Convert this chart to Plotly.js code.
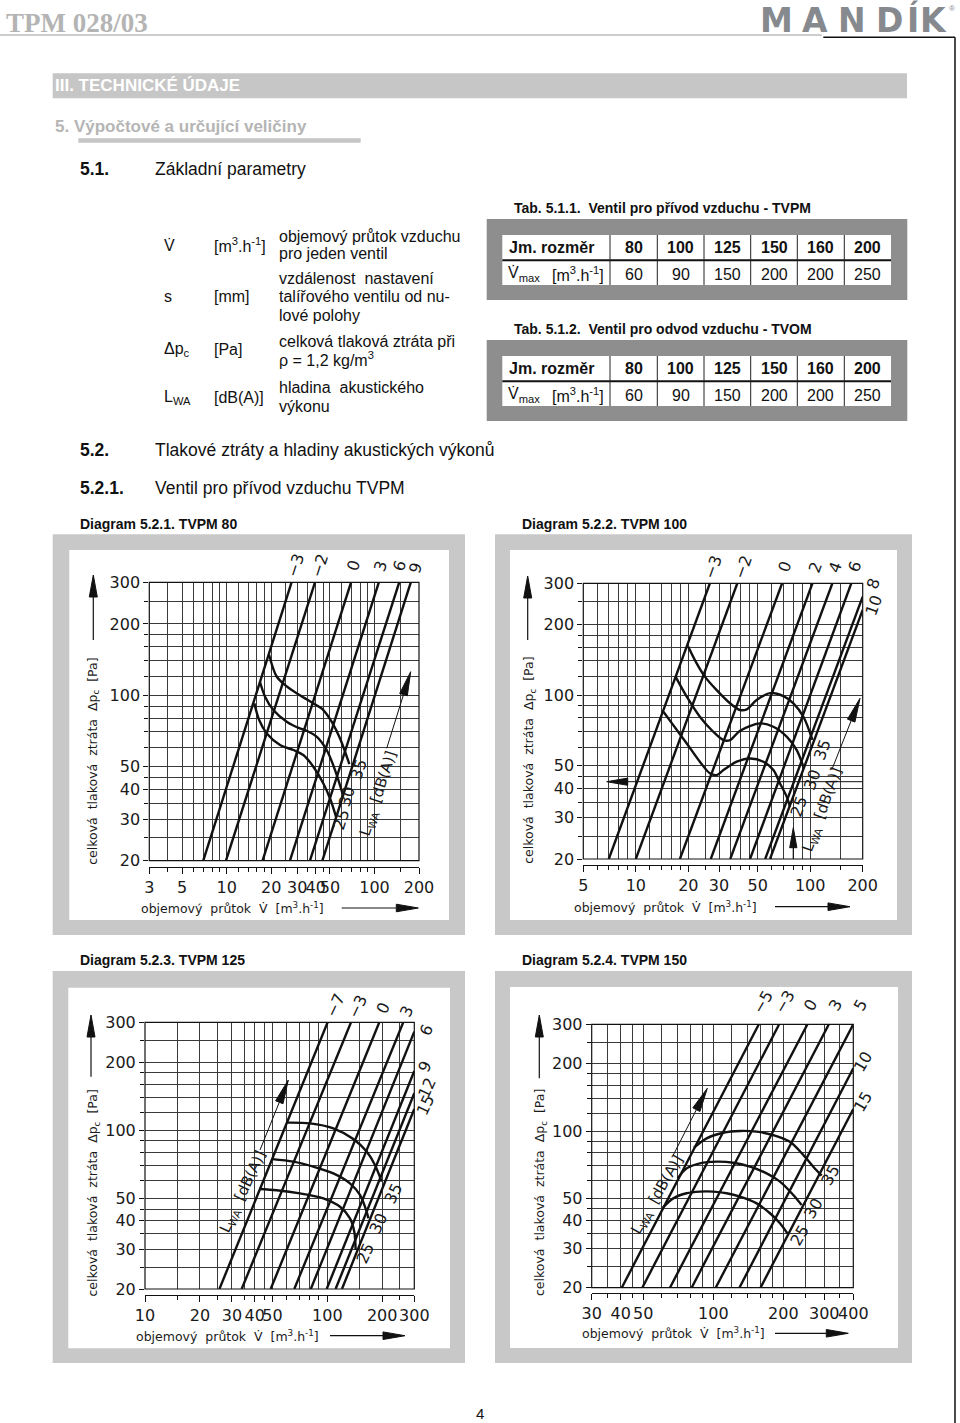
<!DOCTYPE html>
<html>
<head>
<meta charset="utf-8">
<script src="https://cdn.plot.ly/plotly-3.0.1.min.js"></script>
<style>
  html, body { margin: 0; padding: 0; background: #fff; }
  #page { width: 960px; height: 1423px; }
</style>
</head>
<body>
<div id="page"></div>
<script>
var W = 960, H = 1423;
var INK = '#111111';
var GRID = '#3a3a3a';
var SANS = 'Liberation Sans, Arial, sans-serif';
var CAD = 'DejaVu Sans, sans-serif';

// ---- tables 5.1.1 / 5.1.2 ----
var jmRozmer = [80, 100, 125, 150, 160, 200];
var vmaxTVPM = [60, 90, 150, 200, 200, 250];
var vmaxTVOM = [60, 90, 150, 200, 200, 250];

// ---- pressure axis, same on every diagram ----
var pRange = [20, 300];
var pMajor = [20, 30, 40, 50, 100, 200, 300];
var pMinor = [25, 35, 45, 60, 70, 80, 90, 120, 140, 160, 180, 250];

// ---- Diagram 5.2.1. TVPM 80 ----
var tvpm80Range = [3, 200];
var tvpm80Ticks = [3, 5, 10, 20, 30, 40, 50, 100, 200];
var tvpm80Minor = [4, 6, 7, 8, 9, 12, 14, 16, 18, 25, 35, 45, 60, 70, 80, 90, 150];
var tvpm80Settings = ['−3', '−2', '0', '3', '6', '9'];
var tvpm80LineV = [[6.95, 27.5], [9.9, 39.6], [17.5, 69.4], [26.8, 107], [36.6, 147], [44.4, 176]];
var tvpm80LineP = [[20, 300], [20, 300], [20, 300], [20, 300], [20, 300], [20, 300]];
var tvpm80Noise = ['25', '30', '35'];
var tvpm80NoiseV = [
  [15.4, 16.6, 18.7, 23.0, 28.3, 33.0, 38.6, 45.1, 50.5, 54.9],
  [16.8, 18.2, 20.7, 25.5, 31.3, 34.8, 40.6, 47.5, 54.1, 60.9],
  [19.4, 21.8, 25.5, 31.3, 38.6, 45.1, 51.3, 58.4, 67.6]
];
var tvpm80NoiseP = [
  [92.4, 78.6, 69.0, 61.6, 58.7, 55.9, 49.9, 42.4, 36.1, 30.7],
  [114, 98.6, 86.6, 77.3, 72.4, 70.8, 66.8, 58.7, 48.3, 38.3],
  [148, 120, 109, 100, 92.4, 86.6, 77.3, 65.8, 51.2]
];

// ---- Diagram 5.2.2. TVPM 100 ----
var tvpm100Range = [5, 200];
var tvpm100Ticks = [5, 10, 20, 30, 50, 100, 200];
var tvpm100Minor = [6, 7, 8, 9, 12, 14, 16, 18, 25, 35, 40, 45, 60, 70, 80, 90, 150];
var tvpm100Settings = ['−3', '−2', '0', '2', '4', '6', '8', '10'];
var tvpm100LineV = [[7.0, 26.6], [10.0, 38.2], [17.9, 69], [26.9, 103], [34.8, 134], [45.2, 172], [55.2, 200], [58.8, 200]];
var tvpm100LineP = [[20, 300], [20, 300], [20, 300], [20, 300], [20, 300], [20, 300], [20, 263], [20, 231]];
var tvpm100Noise = ['25', '30', '35'];
var tvpm100NoiseV = [
  [14.4, 16.4, 19.6, 23.3, 26.6, 29.1, 31.8, 37.9, 45.2, 53.9, 61.5, 67.1, 73.3, 76.6],
  [16.9, 19.6, 23.3, 27.8, 31.8, 34.7, 39.6, 51.5, 61.5, 73.3, 83.7, 91.4],
  [20.0, 22.3, 24.9, 29.1, 34.7, 39.6, 43.3, 49.3, 58.9, 70.2, 80.1, 91.4, 103]
];
var tvpm100NoiseP = [
  [84.9, 74.5, 62.2, 52.0, 46.4, 45.6, 47.9, 52.0, 53.7, 52.0, 47.9, 42.0, 36.9, 33.4],
  [120, 98.5, 80.9, 69.8, 64.3, 64.3, 70.5, 75.8, 73.3, 66.5, 58.3, 49.5],
  [161, 137, 120, 105, 92.3, 86.4, 87, 95.3, 102, 99, 92.3, 80.9, 64.5]
];

// ---- Diagram 5.2.3. TVPM 125 ----
var tvpm125Range = [10, 300];
var tvpm125Ticks = [10, 20, 30, 40, 50, 100, 200, 300];
var tvpm125Minor = [15, 25, 35, 45, 60, 70, 80, 90, 150, 250];
var tvpm125Settings = ['−7', '−3', '0', '3', '6', '9', '12', '15'];
var tvpm125LineV = [[25.6, 100.4], [33.9, 134.9], [48.9, 192.8], [65.9, 261], [81.2, 300], [99.2, 300], [111, 300], [120.3, 300]];
var tvpm125LineP = [[20, 300], [20, 300], [20, 300], [20, 300], [20, 273], [20, 183], [20, 146], [20, 124.4]];
var tvpm125Noise = ['25', '30', '35'];
var tvpm125NoiseV = [
  [42.4, 52.7, 70.8, 95.1, 117.4, 133.1, 140.6, 143],
  [49.9, 65.1, 83.8, 107.9, 133.1, 151, 164.3, 167.9],
  [60.6, 80.4, 107.9, 138.9, 164.3, 182.5, 198.6]
];
var tvpm125NoiseP = [
  [55.2, 54.5, 52.8, 50.2, 46.1, 41.0, 35.8, 29.7],
  [74.8, 72.9, 69.3, 64.7, 58.5, 52.0, 43.9, 41.0],
  [108.3, 107.5, 102.2, 91.7, 80.7, 70.5, 59.5]
];

// ---- Diagram 5.2.4. TVPM 150 ----
var tvpm150Range = [30, 400];
var tvpm150Ticks = [30, 40, 50, 100, 200, 300, 400];
var tvpm150Minor = [35, 45, 60, 70, 80, 90, 120, 140, 160, 180, 250, 350];
var tvpm150Settings = ['−5', '−3', '0', '3', '5', '10', '15'];
var tvpm150LineV = [[40.4, 157], [49.5, 192], [65.1, 254], [80.7, 314], [102.4, 400], [129.5, 400], [159.6, 400]];
var tvpm150LineP = [[20, 300], [20, 300], [20, 300], [20, 300], [20, 300], [20, 190.8], [20, 125.6]];
var tvpm150Noise = ['25', '30', '35'];
var tvpm150NoiseV = [
  [60.6, 67.3, 76.8, 87.6, 100, 114.1, 130.2, 153.6, 175.3, 193.5, 208.1],
  [70.3, 76.8, 87.6, 103.4, 121.9, 143.8, 169.6, 193.5, 220.8, 239.8],
  [82.6, 93.6, 110.4, 130.2, 153.6, 181.1, 213.6, 243.8, 269.2, 292.4]
];
var tvpm150NoiseP = [
  [45.5, 50.1, 52.8, 53.7, 53.7, 52.8, 51.0, 47.6, 43.0, 38.8, 35.0],
  [61.6, 68.2, 71.8, 73.1, 72.3, 69.4, 64.8, 59.5, 51.9, 46.8],
  [84.4, 92.9, 98.4, 100.2, 99.5, 96.1, 89.7, 78.3, 69.4, 63.3]
];

// page pixels -> paper
function X(x) { return x / W; }
function Y(y) { return 1 - y / H; }

function label(x, y, text, size, o) {
  o = o || {};
  return {
    xref: 'paper', yref: 'paper', x: X(x), y: Y(y), text: text, showarrow: false,
    xanchor: o.anchor || 'left', yanchor: 'middle', textangle: o.angle || 0,
    font: {family: o.family || SANS, size: size, color: o.color || INK}
  };
}

function rect(x0, y0, x1, y1, fill, layer) {
  return {type: 'rect', xref: 'paper', yref: 'paper', x0: X(x0), y0: Y(y0), x1: X(x1), y1: Y(y1),
    fillcolor: fill, line: {width: 0}, layer: layer || 'below'};
}

function seg(x0, y0, x1, y1, color, width) {
  return {type: 'line', xref: 'paper', yref: 'paper', x0: X(x0), y0: Y(y0), x1: X(x1), y1: Y(y1),
    line: {color: color, width: width}, layer: 'above'};
}

// stem + filled head, tip at (x1, y1)
function arrow(x0, y0, x1, y1, headLen, headHalf, lw) {
  var dx = x1 - x0, dy = y1 - y0, L = Math.sqrt(dx * dx + dy * dy);
  var ux = dx / L, uy = dy / L, nx = -uy, ny = ux;
  var bx = x1 - ux * headLen, by = y1 - uy * headLen;
  var path = 'M' + X(x1) + ',' + Y(y1) +
    ' L' + X(bx + nx * headHalf) + ',' + Y(by + ny * headHalf) +
    ' L' + X(bx - nx * headHalf) + ',' + Y(by - ny * headHalf) + ' Z';
  return [
    seg(x0, y0, bx, by, INK, lw || 1.2),
    {type: 'path', xref: 'paper', yref: 'paper', path: path, fillcolor: INK, line: {color: INK, width: 1}, layer: 'above'}
  ];
}

var shapes = [];
var annotations = [];
var data = [];

// ---- page header ----
shapes.push(seg(0, 35, 821.7, 35, '#cccccc', 2));
shapes.push(seg(823.3, 37.3, 955, 37.3, INK, 1.5));
shapes.push(seg(955, 37.3, 955, H, INK, 1.5));
annotations.push(label(4, 23.5, '<b>TPM 028/03</b>', 27, {family: 'Liberation Serif, serif', color: '#b4b4b4'}));
var logo = ['M', 'A', 'N', 'D', 'Í', 'K'];
var logoX = [776, 815, 851.7, 889, 912.5, 933.5];
logo.forEach(function (ch, i) {
  annotations.push(label(logoX[i], 20, '<b>' + ch + '</b>', 33, {anchor: 'center', family: CAD, color: '#868a8f'}));
});
annotations.push(label(952, 9, '®', 8, {anchor: 'center', color: '#868a8f'}));

// ---- headings ----
shapes.push(rect(52.7, 73.3, 907, 98.3, '#c6c6c6'));
annotations.push(label(53.3, 86, '<b>III. TECHNICKÉ ÚDAJE</b>', 17, {color: '#ffffff'}));
annotations.push(label(53.3, 126, '<b>5. Výpočtové a určující veličiny</b>', 17, {color: '#b5b5b5'}));
shapes.push(rect(78.3, 138.3, 360.7, 142.7, '#c6c6c6'));
annotations.push(label(78.3, 169.3, '<b>5.1.</b>', 17.5));
annotations.push(label(152.7, 169.3, 'Základní parametry', 17.5));

// ---- quantities ----
var qSym = ['V\u0307', 's', 'Δp<sub>c</sub>', 'L<sub>WA</sub>'];
var qSymY = [245, 297, 350, 397];
var qUnit = ['[m<sup>3</sup>.h<sup>-1</sup>]', '[mm]', '[Pa]', '[dB(A)]'];
var qText = [
  ['objemový průtok vzduchu', 'pro jeden ventil'],
  ['vzdálenost \u00a0nastavení', 'talířového ventilu od nu-', 'lové polohy'],
  ['celková tlaková ztráta při', 'ρ = 1,2 kg/m<sup>3</sup>'],
  ['hladina \u00a0akustického', 'výkonu']
];
var qTextY = [[236, 254], [278.5, 297, 315], [341, 359], [388, 406]];
qSym.forEach(function (s, i) {
  annotations.push(label(162, qSymY[i], s, 16));
  annotations.push(label(212, qSymY[i], qUnit[i], 16));
  qText[i].forEach(function (t, j) { annotations.push(label(277, qTextY[i][j], t, 16)); });
});

// ---- tables ----
var colEdges = [610, 657.3, 704, 750.7, 797.3, 844.3, 891];
function table(title, top, values) {
  annotations.push(label(512.3, top - 10.7, '<b>' + title + '</b>', 14));
  shapes.push(rect(486.7, top, 907.3, top + 81, '#8e8e8e'));
  shapes.push(rect(502.3, top + 16, 891, top + 66, '#ffffff'));
  shapes.push(seg(502.3, top + 41.3, 891, top + 41.3, INK, 2));
  for (var i = 0; i < 6; i++) shapes.push(seg(colEdges[i], top + 16, colEdges[i], top + 66, '#222', 1));
  annotations.push(label(507.3, top + 28.7, '<b>Jm. rozměr</b>', 16));
  annotations.push(label(505.5, top + 55.3, 'V\u0307<sub>max</sub>', 16));
  annotations.push(label(550, top + 55.3, '[m<sup>3</sup>.h<sup>-1</sup>]', 16));
  for (var k = 0; k < 6; k++) {
    var cx = (colEdges[k] + colEdges[k + 1]) / 2;
    annotations.push(label(cx, top + 28.7, '<b>' + jmRozmer[k] + '</b>', 16, {anchor: 'center'}));
    annotations.push(label(cx, top + 55.3, String(values[k]), 16, {anchor: 'center'}));
  }
}
table('Tab. 5.1.1. \u00a0Ventil pro přívod vzduchu - TVPM', 219, vmaxTVPM);
table('Tab. 5.1.2. \u00a0Ventil pro odvod vzduchu - TVOM', 340, vmaxTVOM);

annotations.push(label(78.3, 450, '<b>5.2.</b>', 17.5));
annotations.push(label(152.7, 450, 'Tlakové ztráty a hladiny akustických výkonů', 17.5));
annotations.push(label(78.3, 488, '<b>5.2.1.</b>', 17.5));
annotations.push(label(152.7, 488, 'Ventil pro přívod vzduchu TVPM', 17.5));
annotations.push(label(480, 1413, '4', 15, {anchor: 'center'}));

// ---- diagrams ----
var diagrams = [
  {title: 'Diagram 5.2.1. TVPM 80', titleAt: [78.3, 524], frame: [52.7, 534.3, 465, 935], inner: [69.3, 550, 449, 920],
   plot: [149.3, 582.3, 419, 860.7], axisY: 866.7, range: tvpm80Range, ticks: tvpm80Ticks, minor: tvpm80Minor,
   lineV: tvpm80LineV, lineP: tvpm80LineP, noiseV: tvpm80NoiseV, noiseP: tvpm80NoiseP,
   settings: tvpm80Settings, noise: tvpm80Noise, angle: -72,
   settingAt: [[295, 565], [319.3, 565], [353.3, 565], [380.7, 566.7], [400, 566], [415, 568]],
   noiseAt: [[340.5, 820], [347, 796.7], [358.3, 769]],
   lwaAt: [378.3, 793.3], lwaArrow: [386.7, 748.3, 410.7, 671.7],
   yTitle: [93.3, 761.5], yArrow: [93.3, 640, 575], xTitle: [139, 908], xArrow: [341.7, 418.3, 908]},
  {title: 'Diagram 5.2.2. TVPM 100', titleAt: [520, 524], frame: [495, 534.3, 912, 935], inner: [510, 550, 897, 920],
   plot: [583.3, 583.3, 862.7, 859], axisY: 865, range: tvpm100Range, ticks: tvpm100Ticks, minor: tvpm100Minor,
   lineV: tvpm100LineV, lineP: tvpm100LineP, noiseV: tvpm100NoiseV, noiseP: tvpm100NoiseP,
   settings: tvpm100Settings, noise: tvpm100Noise, angle: -70,
   settingAt: [[713.3, 566.7], [743.3, 566.7], [785, 566.7], [815, 567.3], [835, 567.3], [855, 566.7], [873.3, 583.3], [873.3, 605]],
   noiseAt: [[799, 806.7], [811.7, 780], [821.7, 750]],
   lwaAt: [821.7, 810], lwaArrow: [831.7, 770, 860, 698.3],
   yTitle: [530, 760.8], yArrow: [527.7, 640, 576], xTitle: [571.7, 906.7], xArrow: [775, 850, 906.7]},
  {title: 'Diagram 5.2.3. TVPM 125', titleAt: [78.3, 960], frame: [52.7, 971, 465, 1363], inner: [68.3, 987.7, 450, 1348.3],
   plot: [145, 1022.3, 414.3, 1289], axisY: 1295, range: tvpm125Range, ticks: tvpm125Ticks, minor: tvpm125Minor,
   lineV: tvpm125LineV, lineP: tvpm125LineP, noiseV: tvpm125NoiseV, noiseP: tvpm125NoiseP,
   settings: tvpm125Settings, noise: tvpm125Noise, angle: -65,
   settingAt: [[335, 1005], [357.7, 1006.7], [382.7, 1008.3], [406.7, 1011.7], [426, 1030], [425, 1066.7], [426.7, 1088.3], [425, 1105]],
   noiseAt: [[365, 1253.3], [378.3, 1223.3], [393.3, 1193.3]],
   lwaAt: [243.3, 1191.7], lwaArrow: [260, 1150, 288.3, 1080],
   yTitle: [93.3, 1193.3], yArrow: [91, 1076.7, 1015], xTitle: [134, 1335.7], xArrow: [330, 405, 1335.7]},
  {title: 'Diagram 5.2.4. TVPM 150', titleAt: [520, 960], frame: [495, 971, 912, 1363], inner: [510, 987, 898, 1348],
   plot: [591.7, 1024.3, 853.3, 1287.7], axisY: 1292.7, range: tvpm150Range, ticks: tvpm150Ticks, minor: tvpm150Minor,
   lineV: tvpm150LineV, lineP: tvpm150LineP, noiseV: tvpm150NoiseV, noiseP: tvpm150NoiseP,
   settings: tvpm150Settings, noise: tvpm150Noise, angle: -60,
   settingAt: [[763.3, 1001.7], [785, 1001.7], [810, 1005], [835, 1005], [860, 1005], [863.3, 1061.7], [863.3, 1101.7]],
   noiseAt: [[799.3, 1235], [813.3, 1208.3], [830, 1175]],
   lwaAt: [656.7, 1195], lwaArrow: [673.3, 1155, 707.3, 1088.3],
   yTitle: [540, 1193], yArrow: [539.3, 1078.3, 1015], xTitle: [580, 1333.3], xArrow: [775, 848.3, 1333.3]}
];

function logAxis(range, major, minor, extra) {
  var ax = {
    type: 'log', range: [Math.log10(range[0]), Math.log10(range[1])], fixedrange: true,
    tickmode: 'array', tickvals: major, ticktext: major.map(String), tickangle: 0,
    ticks: 'outside', ticklen: 6, tickwidth: 1, tickcolor: INK,
    tickfont: {family: CAD, size: 16, color: '#1a1a1a'},
    showgrid: true, gridcolor: GRID, gridwidth: 1, zeroline: false, showline: false,
    minor: {tickmode: 'array', tickvals: minor, ticks: 'outside', ticklen: 4, tickcolor: INK,
      showgrid: true, gridcolor: GRID, gridwidth: 1}
  };
  for (var k in extra) ax[k] = extra[k];
  return ax;
}

var layout = {
  width: W, height: H, autosize: false,
  margin: {l: 0, r: 0, t: 0, b: 0, pad: 0},
  paper_bgcolor: '#ffffff', plot_bgcolor: '#ffffff',
  showlegend: false, hovermode: false
};

var yTitleText = 'celková \u00a0tlaková \u00a0ztráta \u00a0Δp<sub>c</sub> \u00a0[Pa]';
var xTitleText = 'objemový \u00a0průtok \u00a0V\u0307 \u00a0[m<sup>3</sup>.h<sup>-1</sup>]';

diagrams.forEach(function (d, i) {
  var n = i === 0 ? '' : String(i + 1);
  var xa = 'x' + n, ya = 'y' + n;

  shapes.push(rect(d.frame[0], d.frame[1], d.frame[2], d.frame[3], '#c8c8c8'));
  shapes.push(rect(d.inner[0], d.inner[1], d.inner[2], d.inner[3], '#ffffff'));
  annotations.push(label(d.titleAt[0], d.titleAt[1], '<b>' + d.title + '</b>', 14));

  layout['xaxis' + n] = logAxis(d.range, d.ticks, d.minor, {
    domain: [X(d.plot[0]), X(d.plot[2])], anchor: 'free', position: Y(d.axisY),
    showline: true, linecolor: INK, linewidth: 1
  });
  layout['yaxis' + n] = logAxis(pRange, pMajor, pMinor, {
    domain: [Y(d.plot[3]), Y(d.plot[1])], anchor: xa, ticklen: 5
  });

  // frame of the grid
  shapes.push({type: 'rect', xref: xa + ' domain', yref: ya + ' domain', x0: 0, x1: 1, y0: 0, y1: 1,
    line: {color: INK, width: 1.2}, layer: 'above'});

  d.lineV.forEach(function (v, k) {
    data.push({type: 'scatter', mode: 'lines', x: v, y: d.lineP[k], xaxis: xa, yaxis: ya,
      name: 's = ' + d.settings[k], line: {color: INK, width: 2.4}, hoverinfo: 'skip'});
  });
  d.noiseV.forEach(function (v, k) {
    data.push({type: 'scatter', mode: 'lines', x: v, y: d.noiseP[k], xaxis: xa, yaxis: ya,
      name: d.noise[k] + ' dB(A)', line: {color: INK, width: 2.4, shape: 'spline', smoothing: 0.9}, hoverinfo: 'skip'});
  });

  d.settings.forEach(function (s, k) {
    annotations.push(label(d.settingAt[k][0], d.settingAt[k][1], s, 16, {anchor: 'center', family: CAD, angle: d.angle, color: '#1a1a1a'}));
  });
  d.noise.forEach(function (s, k) {
    annotations.push(label(d.noiseAt[k][0], d.noiseAt[k][1], s, 16, {anchor: 'center', family: CAD, angle: d.angle, color: '#1a1a1a'}));
  });
  annotations.push(label(d.lwaAt[0], d.lwaAt[1], 'L<sub>WA</sub> \u00a0[dB(A)]', 15, {anchor: 'center', family: CAD, angle: d.angle, color: '#1a1a1a'}));
  shapes = shapes.concat(arrow(d.lwaArrow[0], d.lwaArrow[1], d.lwaArrow[2], d.lwaArrow[3], 24, 4, 1));

  annotations.push(label(d.yTitle[0], d.yTitle[1], yTitleText, 12.5, {anchor: 'center', family: CAD, angle: -90, color: '#1a1a1a'}));
  shapes = shapes.concat(arrow(d.yArrow[0], d.yArrow[1], d.yArrow[0], d.yArrow[2], 22, 4, 1.2));
  annotations.push(label(d.xTitle[0], d.xTitle[1], xTitleText, 12.5, {family: CAD, color: '#1a1a1a'}));
  shapes = shapes.concat(arrow(d.xArrow[0], d.xArrow[2], d.xArrow[1], d.xArrow[2], 22, 3.8, 1.2));
});

// extra pointers drawn in diagram 5.2.2
shapes = shapes.concat(arrow(862.7, 781.7, 606.7, 781.7, 21, 3.6, 1));
shapes = shapes.concat(arrow(793.3, 859, 793.3, 827.7, 20, 3.6, 1.2));

layout.shapes = shapes;
layout.annotations = annotations;

Plotly.newPlot('page', data, layout, {staticPlot: true, displayModeBar: false});
</script>
</body>
</html>
